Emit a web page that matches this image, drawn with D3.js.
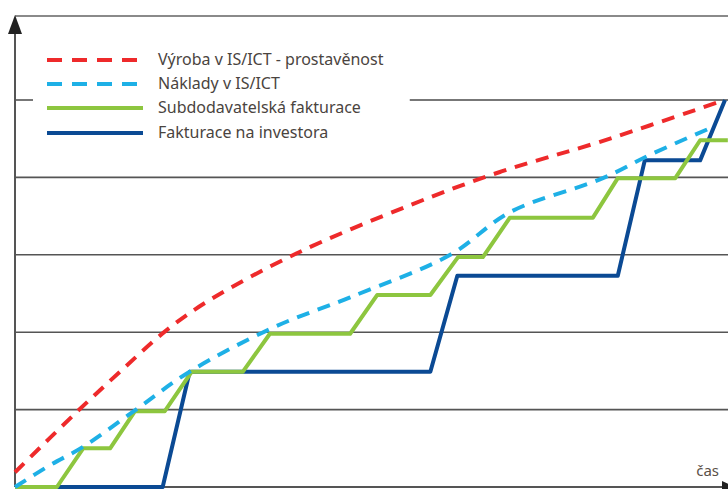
<!DOCTYPE html>
<html>
<head>
<meta charset="utf-8">
<script src="https://cdn.jsdelivr.net/npm/d3@7"></script>
<style>
  body { margin: 0; background: #fff; }
  svg { display: block; }
</style>
</head>
<body>
<svg id="chart" width="728" height="489"></svg>
<script>
// values, x = time (0-100), y = gridline units
const seriesNames = ['Výroba v IS/ICT - prostavěnost', 'Náklady v IS/ICT', 'Subdodavatelská fakturace', 'Fakturace na investora']

const vyrobaX = [0, 8.7, 14.8, 21.4, 27.5, 39.7, 55.6, 68.3, 82.4, 99.0]
const vyrobaY = [0.19, 0.97, 1.49, 2.03, 2.42, 3.02, 3.64, 4.07, 4.46, 4.97]

const nakladyX = [0, 4.9, 9.6, 16.9, 24.6, 36.6, 47.2, 61.3, 69.7, 82.8, 89.4, 97.5]
const nakladyY = [0, 0.28, 0.52, 0.99, 1.49, 2.07, 2.45, 3.0, 3.55, 3.99, 4.29, 4.62]

const subX = [0, 5.9, 9.6, 13.4, 16.9, 21.1, 24.9, 32.1, 35.9, 47.2, 51.0, 58.5, 62.4, 65.9, 69.7, 81.4, 84.9, 93.0, 96.5, 100.4]
const subY = [0, 0, 0.5, 0.5, 0.98, 0.98, 1.49, 1.49, 1.98, 1.98, 2.48, 2.48, 2.97, 2.97, 3.48, 3.48, 3.99, 3.99, 4.48, 4.48]

const invX = [0, 20.8, 24.6, 58.5, 62.3, 84.9, 88.7, 96.5, 100]
const invY = [0, 0, 1.49, 1.49, 2.73, 2.73, 4.22, 4.22, 5.0]

const gridValues = [1, 2, 3, 4]

const drawChart = () => {
    const svg = d3.select('#chart')
    const width = 728
    const margin = { 'left': 15, 'right': 3, 'top': 16, 'bottom': 2 }
    const axisColor = '#555'

    const x = d3.scaleLinear()
        .domain([0, 100])
        .range([margin.left, 725])

    const y = d3.scaleLinear()
        .domain([0, 5])
        .range([487, 100])

    // frame top line
    svg.append('line')
        .attr('x1', margin.left).attr('x2', width)
        .attr('y1', margin.top).attr('y2', margin.top)
        .attr('stroke', '#8a8a8a').attr('stroke-width', 2)

    // gridlines
    svg.append('g')
        .selectAll('line')
        .data(gridValues)
        .join('line')
        .attr('x1', margin.left)
        .attr('x2', width)
        .attr('y1', d => y(d))
        .attr('y2', d => y(d))
        .attr('stroke', axisColor)
        .attr('stroke-width', 1.6)

    // top gridline, broken by the legend
    svg.append('line')
        .attr('x1', margin.left).attr('x2', margin.left + 18)
        .attr('y1', y(5)).attr('y2', y(5))
        .attr('stroke', '#777').attr('stroke-width', 2)
    svg.append('line')
        .attr('x1', x(55.6)).attr('x2', width)
        .attr('y1', y(5)).attr('y2', y(5))
        .attr('stroke', '#777').attr('stroke-width', 2)

    // axes
    svg.append('line')
        .attr('x1', margin.left).attr('x2', width)
        .attr('y1', y(0)).attr('y2', y(0))
        .attr('stroke', axisColor).attr('stroke-width', 2)
    svg.append('line')
        .attr('x1', margin.left).attr('x2', margin.left)
        .attr('y1', 30).attr('y2', y(0))
        .attr('stroke', axisColor).attr('stroke-width', 2)

    // arrows
    svg.append('path')
        .attr('d', `M${margin.left},15 L${margin.left - 7},34 L${margin.left + 7},34 Z`)
        .attr('fill', '#222')
    svg.append('path')
        .attr('d', `M722,481 L738,488 L722,495 Z`)
        .attr('fill', '#222')

    svg.append('text')
        .attr('x', 719)
        .attr('y', 476)
        .attr('text-anchor', 'end')
        .style('font-family', 'Noto Sans, sans-serif')
        .style('font-size', '15px')
        .style('fill', '#5a5048')
        .text('čas')

    const line = d3.line()
        .x(d => x(d[0]))
        .y(d => y(d[1]))

    const smooth = d3.line()
        .x(d => x(d[0]))
        .y(d => y(d[1]))
        .curve(d3.curveCatmullRom.alpha(0.5))

    const series = [
        { name: seriesNames[0], xs: vyrobaX, ys: vyrobaY, color: '#ee2a2b', dash: '13,9', gen: smooth },
        { name: seriesNames[1], xs: nakladyX, ys: nakladyY, color: '#1eb0e6', dash: '13,9', gen: smooth },
        { name: seriesNames[2], xs: subX, ys: subY, color: '#8dc63f', dash: null, gen: line },
        { name: seriesNames[3], xs: invX, ys: invY, color: '#0b4a94', dash: null, gen: line }
    ]

    // draw investor first so green sits over it, like the picture
    const order = [3, 2, 1, 0]
    svg.append('g')
        .selectAll('path')
        .data(order.map(i => series[i]))
        .join('path')
        .attr('d', s => s.gen(s.xs.map((v, i) => [v, s.ys[i]])))
        .attr('fill', 'none')
        .attr('stroke', s => s.color)
        .attr('stroke-width', 4)
        .attr('stroke-linejoin', 'round')
        .attr('stroke-dasharray', s => s.dash)

    // legend
    const legend = svg.append('g')
    const rowY = [60, 84, 108, 133]
    legend.selectAll('line')
        .data(series)
        .join('line')
        .attr('x1', 47).attr('x2', 143)
        .attr('y1', (d, i) => rowY[i]).attr('y2', (d, i) => rowY[i])
        .attr('stroke', d => d.color)
        .attr('stroke-width', 4)
        .attr('stroke-dasharray', d => d.dash ? '15,10' : null)

    legend.selectAll('text')
        .data(series)
        .join('text')
        .attr('x', 158)
        .attr('y', (d, i) => rowY[i] + 5)
        .style('font-family', 'Noto Sans, sans-serif')
        .style('font-size', '16px')
        .style('fill', '#4a4440')
        .text(d => d.name)
}
drawChart()
</script>
</body>
</html>
